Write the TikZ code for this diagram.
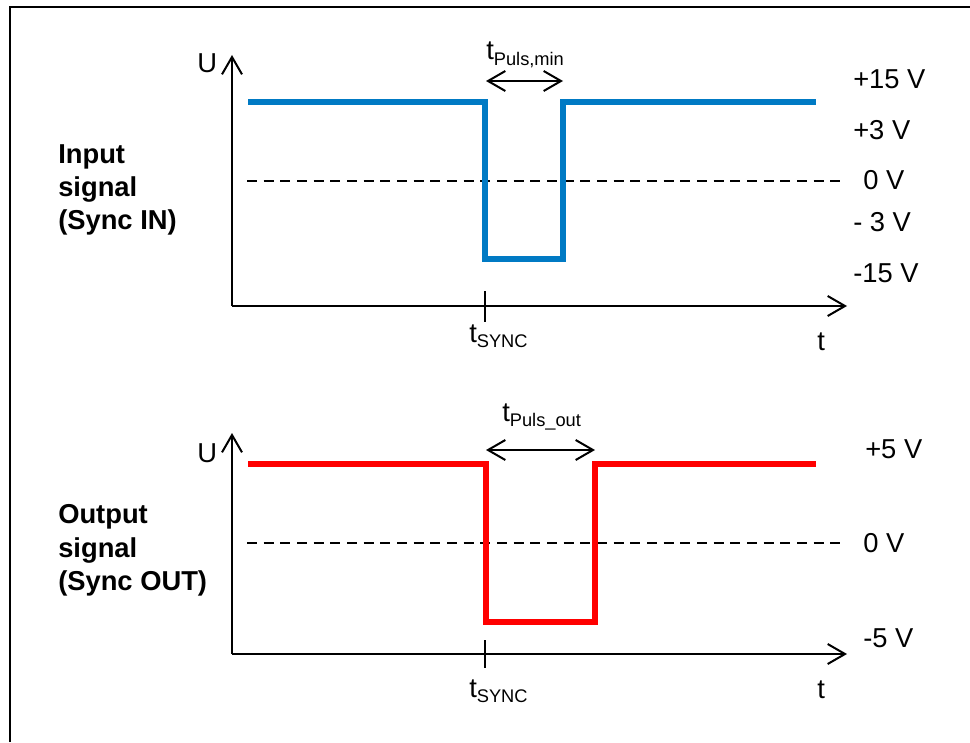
\documentclass[tikz,border=0pt]{standalone}
\usepackage{fontspec}
\setmainfont{Liberation Sans}
\usetikzlibrary{arrows.meta}
\definecolor{sigblue}{RGB}{0,122,196}
\definecolor{sigred}{RGB}{255,0,0}
\newcommand\tsubx[1]{t\raisebox{-4pt}{\fontsize{13.7pt}{15pt}\selectfont #1}}
\begin{document}
\begin{tikzpicture}[x=0.75pt,y=-0.75pt,
  axisline/.style={line width=1.5pt,-{Straight Barb[length=13pt,width=15pt,line width=1.5pt]}},
  dimline/.style={line width=1.5pt,{Straight Barb[length=13pt,width=15pt,line width=1.5pt]}-{Straight Barb[length=13pt,width=15pt,line width=1.5pt]}},
  zeroline/.style={line width=1.5pt,dash pattern=on 7.5pt off 5pt},
  tickline/.style={line width=1.5pt},
  sigline/.style={line width=3.8pt,line join=miter},
  lbl/.style={inner sep=0pt,anchor=base west,font=\fontsize{20.5pt}{24pt}\selectfont},
  blbl/.style={lbl,font=\fontsize{20.5pt}{24pt}\selectfont\bfseries},
]
\useasboundingbox (0,0) rectangle (970,742);
\draw[line width=1.6pt] (10,742) -- (10,7) -- (970,7);

% ---------- top panel ----------
\coordinate (o1) at (232,306);
\coordinate (yt1) at (232,55);
\coordinate (xe1) at (847,306);
\draw[axisline] (o1) -- (yt1);
\draw[axisline] (o1) -- (xe1);
\coordinate (za1) at (247,181);
\coordinate (zb1) at (843,181);
\draw[zeroline] (za1) -- (zb1);
\draw[sigline,sigblue] (248,102) -- (485,102) -- (485,259) -- (563,259) -- (563,102) -- (816,102);
\coordinate (tka1) at (485,291);
\coordinate (tkb1) at (485,322);
\draw[tickline] (tka1) -- (tkb1);
\coordinate (da1) at (486,81);
\coordinate (db1) at (563,81);
\draw[dimline] (da1) -- (db1);

\node[lbl] (u1) at (197,73) {U};
\node[lbl] (t1) at (817,350) {t};
\node[lbl] (ts1) at (469,342) {\tsubx{SYNC}};
\node[lbl] (tp1) at (486,60) {\tsubx{Puls,min}};
\node[lbl] (v15) at (853,89) {+15 V};
\node[lbl] (v3) at (853,139) {+3 V};
\node[lbl] (v0a) at (863,189) {0 V};
\node[lbl] (vm3) at (853,231) {- 3 V};
\node[lbl] (vm15) at (853,282) {-15 V};
\node[blbl] (in1) at (58,163) {Input};
\node[blbl] (in2) at (58,196) {signal};
\node[blbl] (in3) at (58,229) {(Sync IN)};

% ---------- bottom panel ----------
\coordinate (o2) at (232,654);
\coordinate (yt2) at (232,433);
\coordinate (xe2) at (847,654);
\draw[axisline] (o2) -- (yt2);
\draw[axisline] (o2) -- (xe2);
\coordinate (za2) at (247,543);
\coordinate (zb2) at (843,543);
\draw[zeroline] (za2) -- (zb2);
\draw[sigline,sigred] (248,464) -- (486,464) -- (486,622) -- (595,622) -- (595,464) -- (816,464);
\coordinate (tka2) at (485,640);
\coordinate (tkb2) at (485,668);
\draw[tickline] (tka2) -- (tkb2);
\coordinate (da2) at (486,450);
\coordinate (db2) at (595,450);
\draw[dimline] (da2) -- (db2);

\node[lbl] (u2) at (197,462) {U};
\node[lbl] (t2) at (817,698) {t};
\node[lbl] (ts2) at (469,697) {\tsubx{SYNC}};
\node[lbl] (tp2) at (502,421) {\tsubx{Puls\_out}};
\node[lbl] (v5) at (865,458) {+5 V};
\node[lbl] (v0b) at (863,552) {0 V};
\node[lbl] (vm5) at (863,647) {-5 V};
\node[blbl] (out1) at (58,523) {Output};
\node[blbl] (out2) at (58,557) {signal};
\node[blbl] (out3) at (58,590) {(Sync OUT)};
\end{tikzpicture}
\end{document}
